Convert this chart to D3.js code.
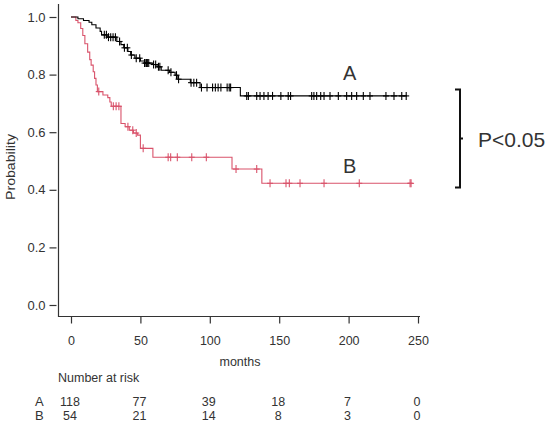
<!DOCTYPE html>
<html><head><meta charset="utf-8">
<script src="https://cdn.jsdelivr.net/npm/d3@7/dist/d3.min.js"></script>
<style>
body{margin:0;background:#fff;}
svg{display:block;}
text{font-family:"Liberation Sans",Arial,sans-serif;}
</style></head>
<body>
<script>
// ---- data ----
const stepsA_t = [0,5,9,13,15,18,21,22,26,33,36,38,41,43,46,50,53,59,62,65,71,75,77,86,93,122];
const stepsA_s = [1.0,0.994,0.988,0.982,0.973,0.962,0.950,0.938,0.930,0.915,0.904,0.893,0.880,0.868,0.857,0.847,0.840,0.835,0.827,0.815,0.808,0.798,0.784,0.772,0.755,0.726];
const endA = 242;
const censA = [24,25.5,27,28.6,30.3,32,35,38.5,40.6,43.5,47,49.5,53,54,54.5,55,56,59.5,61,63,64,70,72,76,77.5,86.5,88.5,90.5,94,98,102,104,106,108,112.5,114,115,126.6,127.8,133.8,136.2,139,142,145.2,151.2,156.5,158.2,173.4,175,177,179.9,182.3,186.6,192.6,198.6,202.2,205.8,210.6,215.4,226.9,232.7,238.3,241.5];

const stepsB_t = [0,3.5,5,7,8.5,10,12,13.5,14.5,16,17,18,19,23,26.5,28,29,36,39,42,45,48,50,59,116,137.5];
const stepsB_s = [1.0,0.988,0.98,0.96,0.936,0.907,0.878,0.852,0.833,0.81,0.787,0.764,0.741,0.729,0.72,0.705,0.69,0.63,0.619,0.607,0.597,0.59,0.544,0.513,0.472,0.4225];
const endB = 245.5;
const censB = [20,30.5,32.5,34.5,41,44.5,47,52,70,71.8,76.6,87,97.5,118.9,133.8,143.4,154.9,157.3,165,182.3,207.7,244.3,245];

const yTicks = [0,0.2,0.4,0.6,0.8,1.0];
const xTicks = [0,50,100,150,200,250];
const riskTimes = [0,50,100,150,200,250];
const riskA = [118,77,39,18,7,0];
const riskB = [54,21,14,8,3,0];

// ---- drawing ----
const W=550,H=427;
const svg=d3.select("body").append("svg").attr("width",W).attr("height",H);
const x=d3.scaleLinear().domain([0,250]).range([71,418]);
const y=d3.scaleLinear().domain([0,1]).range([305,17]);

// frame (L shape)
svg.append("path").attr("d","M58.5,4V316.5H420").attr("fill","none").attr("stroke","#333").attr("stroke-width",1.2);

// axes
const gy=svg.append("g").attr("transform","translate(56.5,0)")
  .call(d3.axisLeft(y).tickValues(yTicks).tickFormat(d3.format(".1f")).tickSize(7).tickPadding(4));
gy.select(".domain").remove();
const gx=svg.append("g").attr("transform","translate(0,316.5)")
  .call(d3.axisBottom(x).tickValues(xTicks).tickSize(7).tickPadding(13));
gx.select(".domain").remove();
svg.selectAll(".tick line").attr("stroke","#333").attr("stroke-width",1.2);
svg.selectAll(".tick text").attr("fill","#333").attr("font-family","Liberation Sans, Arial, sans-serif");
gy.selectAll(".tick text").attr("font-size",13);
gx.selectAll(".tick text").attr("font-size",12.5);

// labels
svg.append("text").attr("transform","translate(15,167) rotate(-90)").attr("text-anchor","middle")
  .attr("font-size",12.5).attr("fill","#333").attr("textLength",66).attr("lengthAdjust","spacingAndGlyphs").text("Probability");
svg.append("text").attr("x",240).attr("y",366).attr("text-anchor","middle").attr("font-size",12.5).attr("fill","#333").text("months");
svg.append("text").attr("x",58).attr("y",382).attr("font-size",12.5).attr("fill","#333").text("Number at risk");

// curves
function stepFn(ts,ss){return t=>{let v=ss[0];for(let i=0;i<ts.length;i++){if(ts[i]<=t)v=ss[i];}return v;};}
function drawCurve(ts,ss,end,cens,color){
  const pts=ts.map((t,i)=>[t,ss[i]]);pts.push([end,ss[ss.length-1]]);
  const line=d3.line().x(d=>x(d[0])).y(d=>y(d[1])).curve(d3.curveStepAfter);
  svg.append("path").attr("d",line(pts)).attr("fill","none").attr("stroke",color).attr("stroke-width",1.1);
  const f=stepFn(ts,ss);
  const g=svg.append("g").attr("stroke",color).attr("stroke-width",1.1);
  cens.forEach(t=>{
    const cx=x(t),cy=y(f(t));
    g.append("line").attr("x1",cx).attr("x2",cx).attr("y1",cy-4).attr("y2",cy+4);
    g.append("line").attr("x1",cx-3).attr("x2",cx+3).attr("y1",cy).attr("y2",cy);
  });
}
drawCurve(stepsB_t,stepsB_s,endB,censB,"#d9536b");
drawCurve(stepsA_t,stepsA_s,endA,censA,"#000");

// group labels
const lblFont='"Noto Sans CJK JP","Noto Sans",sans-serif';
svg.append("text").attr("x",343).attr("y",80).attr("font-size",20).attr("fill","#333").attr("font-family",lblFont).text("A");
svg.append("text").attr("x",343).attr("y",173).attr("font-size",20).attr("fill","#333").attr("font-family",lblFont).text("B");

// significance bracket
svg.append("path").attr("d","M455,89.5H460V187.5H455M460,138.5H463").attr("fill","none").attr("stroke","#111").attr("stroke-width",2);
svg.append("text").attr("x",478).attr("y",147).attr("font-size",21).attr("fill","#333").attr("font-family",lblFont).text("P<0.05");

// risk table
svg.append("text").attr("x",35).attr("y",406).attr("font-size",13).attr("fill","#333").attr("font-family",lblFont).text("A");
svg.append("text").attr("x",35).attr("y",420).attr("font-size",13).attr("fill","#333").attr("font-family",lblFont).text("B");
svg.append("g").selectAll("text").data(riskTimes).join("text")
  .attr("x",(d,i)=>x(d)-1).attr("y",406).attr("text-anchor","middle").attr("font-size",12.5).attr("fill","#333").text((d,i)=>riskA[i]);
svg.append("g").selectAll("text").data(riskTimes).join("text")
  .attr("x",(d,i)=>x(d)-1).attr("y",420).attr("text-anchor","middle").attr("font-size",12.5).attr("fill","#333").text((d,i)=>riskB[i]);
</script>
</body></html>
